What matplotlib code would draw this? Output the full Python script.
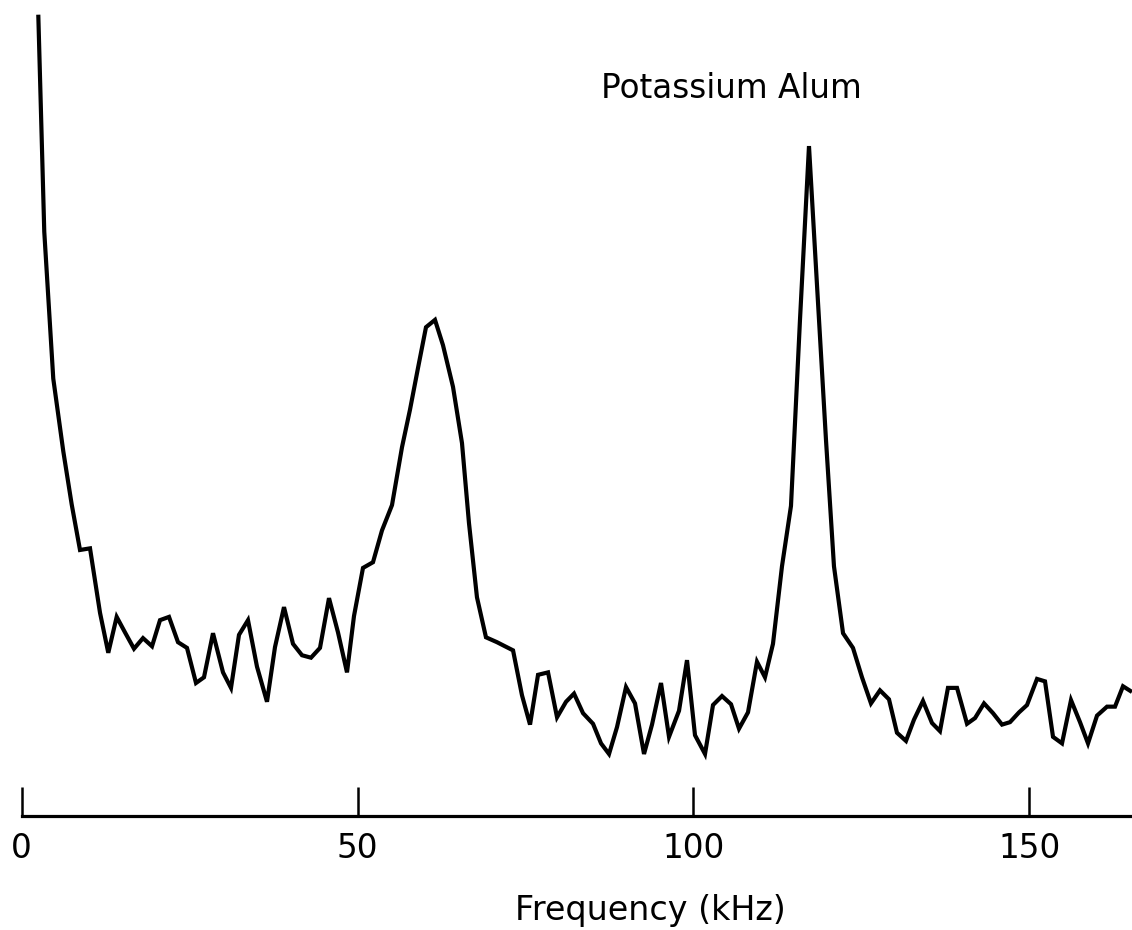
import matplotlib
matplotlib.use("Agg")
import matplotlib.pyplot as plt

# Frequency (kHz) and intensity (arbitrary units, 0-100)
freq_khz = [
    2.47, 3.36, 4.70, 6.19, 7.44, 8.68, 10.17, 11.66, 12.89, 14.14,
    15.38, 16.72, 18.06, 19.40, 20.59, 21.93, 23.27, 24.61, 25.95, 27.14,
    28.48, 29.97, 31.16, 32.35, 33.69, 35.03, 36.52, 37.71, 39.05, 40.39,
    41.73, 43.07, 44.41, 45.75, 47.09, 48.43, 49.47, 50.81, 52.30, 53.64,
    55.13, 56.62, 57.81, 59.00, 60.19, 61.53, 62.72, 64.21, 65.55, 66.59,
    67.78, 69.12, 70.76, 71.95, 73.15, 74.48, 75.68, 76.87, 78.36, 79.70,
    81.04, 82.23, 83.57, 85.06, 86.25, 87.44, 88.63, 89.97, 91.31, 92.65,
    93.84, 95.18, 96.37, 97.86, 99.05, 100.24, 101.73, 102.92, 104.26, 105.60,
    106.79, 108.13, 109.47, 110.66, 111.85, 113.19, 114.53, 115.87, 117.21, 118.40,
    119.74, 120.93, 122.28, 123.76, 125.10, 126.44, 127.78, 129.12, 130.31, 131.65,
    132.84, 134.18, 135.52, 136.71, 137.90, 139.25, 140.74, 141.93, 143.27, 144.61,
    145.95, 147.14, 148.48, 149.67, 151.16, 152.35, 153.54, 154.88, 156.22, 157.56,
    158.75, 160.09, 161.58, 162.77, 163.96, 165.30,
]
intensity = [
    98.2, 71.6, 53.6, 44.7, 38.2, 32.6, 32.8, 24.9, 20.0, 24.4,
    22.5, 20.5, 21.8, 20.8, 24.0, 24.4, 21.3, 20.6, 16.3, 17.0,
    22.4, 17.6, 15.7, 22.2, 24.0, 18.3, 14.0, 20.7, 25.6, 21.1,
    19.7, 19.4, 20.6, 26.7, 22.5, 17.6, 24.5, 30.4, 31.1, 35.0,
    38.1, 45.2, 49.8, 54.9, 59.9, 60.8, 57.7, 52.6, 45.7, 35.9,
    26.8, 21.9, 21.3, 20.8, 20.3, 14.8, 11.2, 17.3, 17.6, 12.1,
    14.0, 15.0, 12.6, 11.3, 8.9, 7.6, 10.9, 15.8, 13.8, 7.6,
    11.2, 16.3, 9.7, 12.9, 19.1, 9.9, 7.6, 13.6, 14.7, 13.7,
    10.7, 12.7, 18.9, 17.0, 21.1, 30.6, 38.0, 60.8, 82.1, 65.1,
    46.1, 30.6, 22.4, 20.6, 17.0, 13.8, 15.4, 14.3, 10.2, 9.2,
    11.8, 14.1, 11.4, 10.4, 15.7, 15.7, 11.3, 12.0, 13.8, 12.6,
    11.2, 11.5, 12.7, 13.6, 16.8, 16.5, 9.7, 8.9, 14.2, 11.5,
    8.9, 12.3, 13.4, 13.4, 15.9, 15.2,
]
tick_values = [0, 50, 100, 150]
tick_labels = ["0", "50", "100", "150"]
title_text = "Potassium Alum"
xlabel_text = "Frequency (kHz)"

W, H = 1132, 930
fig = plt.figure(figsize=(W / 100, H / 100), dpi=100)
left = 21.7 / W
bottom = (H - 816) / H
ax = fig.add_axes([left, bottom, 1 - left, 816 / H])

ax.plot(freq_khz, intensity, color="black", linewidth=3.0,
        solid_joinstyle="miter", solid_capstyle="butt", clip_on=False)

ax.set_xlim(0, 165.3)
ax.set_ylim(0, 100)

for s in ["left", "right", "top"]:
    ax.spines[s].set_visible(False)
ax.spines["bottom"].set_linewidth(2.3)
ax.set_yticks([])
ax.set_xticks(tick_values)
ax.set_xticklabels(tick_labels, fontfamily="DejaVu Sans", fontsize=23.5)
ax.tick_params(axis="x", direction="in", length=21, width=1.8, pad=11.5,
               colors="black")

fig.text(731 / W, 1 - 98 / H, title_text, ha="center", va="baseline",
         fontsize=23.5, fontfamily="DejaVu Sans")
fig.text(650 / W, 1 - 920 / H, xlabel_text, ha="center", va="baseline",
         fontsize=24, fontfamily="DejaVu Sans")

fig.savefig("out.png", dpi=100, facecolor="white")
